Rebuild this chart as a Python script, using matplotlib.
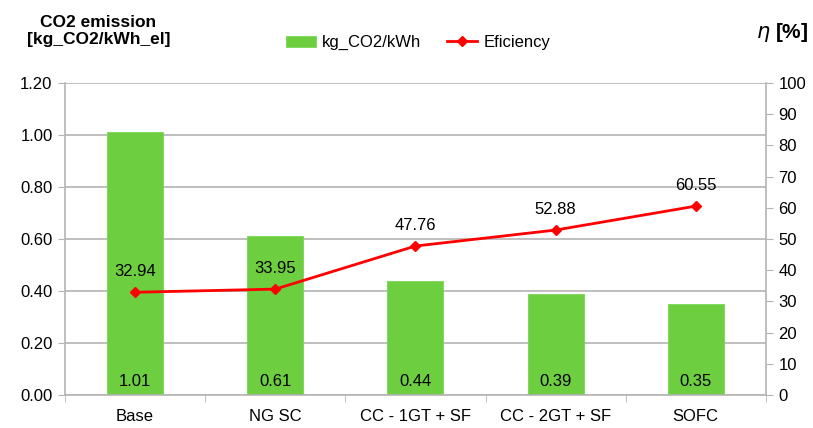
import matplotlib
matplotlib.use("Agg")
import matplotlib.pyplot as plt
import numpy

plt.rcParams["font.family"] = ["Liberation Sans", "DejaVu Sans"]

categories = ["Base", "NG SC", "CC - 1GT + SF", "CC - 2GT + SF", "SOFC"]
co2 = [1.01, 0.61, 0.44, 0.39, 0.35]
efficiency = [32.94, 33.95, 47.76, 52.88, 60.55]

GREEN = "#6dcf40"
GRID = "#b4b4b4"

fig = plt.figure(figsize=(8.13, 4.28), dpi=100)
ax = fig.add_axes([0.080, 0.077, 0.862, 0.729])
ax2 = ax.twinx()

x = numpy.arange(len(categories))
ax.bar(x, co2, width=0.4, color=GREEN, edgecolor="#7ad655", linewidth=0.6,
       label="kg_CO2/kWh", zorder=2)
for xi, v in zip(x, co2):
    ax.annotate(f"{v:.2f}", (xi, 0), xytext=(0, 14), textcoords="offset pixels",
                ha="center", va="center", fontsize=12, zorder=3)

ax.set_xlim(-0.5, len(categories) - 0.5)
ax.set_ylim(0, 1.2)
ax.set_yticks(numpy.arange(0, 1.21, 0.2))
ax.set_yticklabels([f"{t:.2f}" for t in numpy.arange(0, 1.21, 0.2)])
ax.set_xticks(x)
ax.set_xticklabels(categories)
ax.set_xticks(numpy.arange(-0.5, len(categories)), minor=True)
ax.tick_params(axis="x", which="major", length=0, pad=10, labelsize=12)
ax.tick_params(axis="x", which="minor", length=5, color=GRID)
ax.tick_params(axis="y", length=5, color=GRID, labelsize=12, pad=4)
ax.grid(axis="y", color=GRID, linewidth=1.2, zorder=0)
ax.set_axisbelow(True)
for side in ["top", "right"]:
    ax.spines[side].set_visible(False)
for side in ["left", "bottom"]:
    ax.spines[side].set_color(GRID)
    ax.spines[side].set_linewidth(1.2)

ax2.plot(x, efficiency, color="#ff0000", linewidth=2, marker="D", markersize=5.5,
         label="Eficiency", zorder=4)
for xi, v in zip(x, efficiency):
    ax2.annotate(f"{v:.2f}", (xi, v), xytext=(0, 21), textcoords="offset pixels",
                 ha="center", va="center", fontsize=12)
ax2.set_ylim(0, 100)
ax2.set_yticks(numpy.arange(0, 101, 10))
ax2.tick_params(axis="y", length=5, color=GRID, labelsize=12, pad=4)
for side in ["top", "left", "bottom"]:
    ax2.spines[side].set_visible(False)
ax2.spines["right"].set_color(GRID)
ax2.spines["right"].set_linewidth(1.2)

fig.text(0.121, 0.927, "CO2 emission\n[kg_CO2/kWh_el]", ha="center", va="center",
         fontsize=12.5, fontweight="bold", linespacing=1.15)
fig.text(0.994, 0.925, r"$\eta$ [%]", ha="right", va="center", fontsize=15,
         fontweight="bold")

h1, l1 = ax.get_legend_handles_labels()
h2, l2 = ax2.get_legend_handles_labels()
fig.legend(h1 + h2, l1 + l2, loc="center", bbox_to_anchor=(0.514, 0.9), ncol=2,
           frameon=False, fontsize=12, handlelength=1.8, columnspacing=1.6,
           handletextpad=0.35)

fig.savefig("out.png", dpi=100)
